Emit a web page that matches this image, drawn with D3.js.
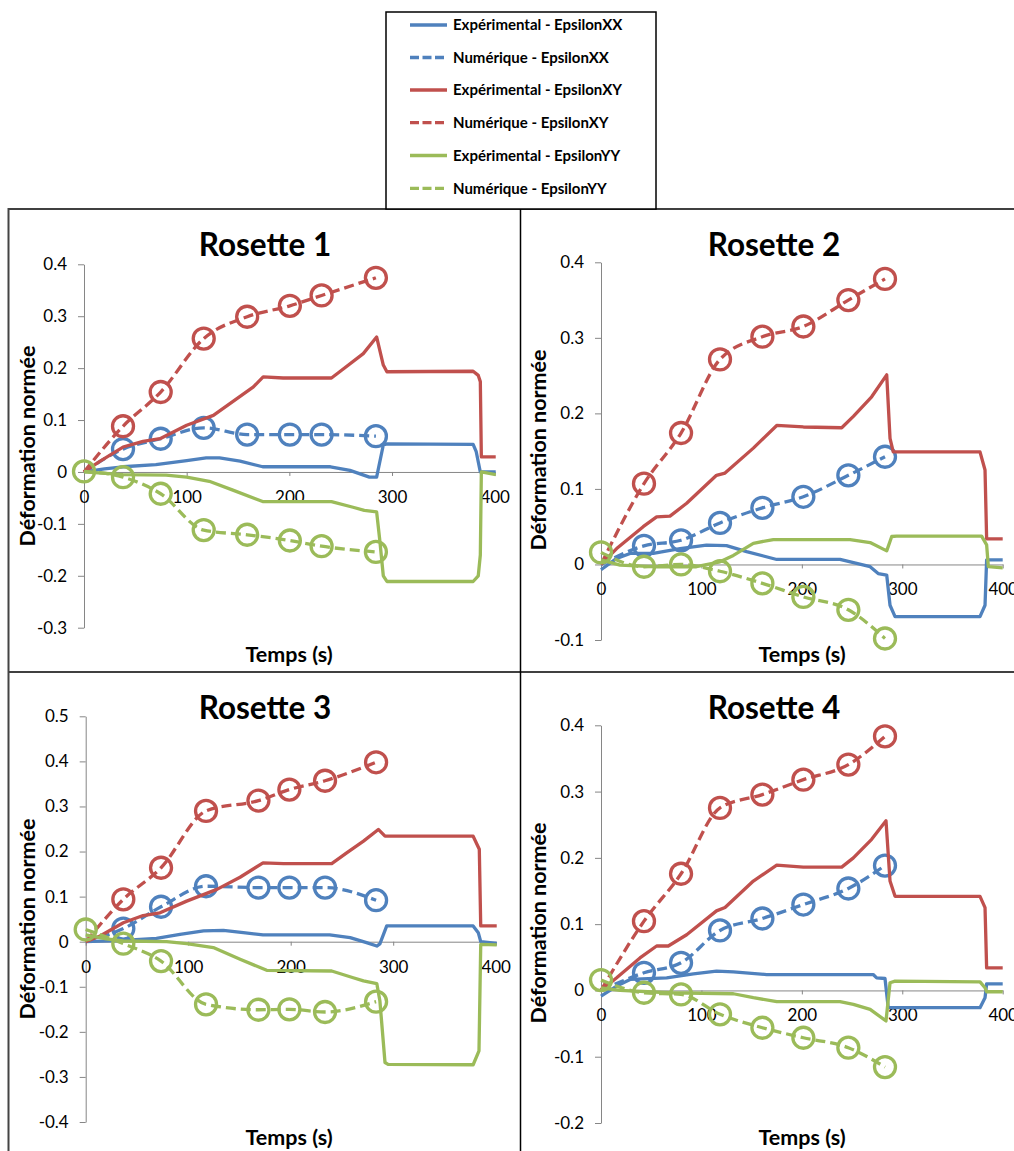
<!DOCTYPE html>
<html>
<head>
<meta charset="utf-8">
<script src="https://cdn.jsdelivr.net/npm/d3@7"></script>
<style>
  html, body { margin: 0; padding: 0; background: #fff; }
  svg { display: block; }
  text { font-family: Lato, "Open Sans", sans-serif; fill: #000; }
</style>
</head>
<body>
<svg id="chart" width="1014" height="1151"></svg>
<script>
// ---------------- DATA ----------------
const seriesNames = ["Expérimental - EpsilonXX", "Numérique - EpsilonXX",
                     "Expérimental - EpsilonXY", "Numérique - EpsilonXY",
                     "Expérimental - EpsilonYY", "Numérique - EpsilonYY"];
const panelTitles = ["Rosette 1", "Rosette 2", "Rosette 3", "Rosette 4"];
const xTicks = [0, 100, 200, 300, 400];
const yTicks1 = [-0.3, -0.2, -0.1, 0, 0.1, 0.2, 0.3, 0.4];
const yTicks2 = [-0.1, 0, 0.1, 0.2, 0.3, 0.4];
const yTicks3 = [-0.4, -0.3, -0.2, -0.1, 0, 0.1, 0.2, 0.3, 0.4, 0.5];
const yTicks4 = [-0.2, -0.1, 0, 0.1, 0.2, 0.3, 0.4];

// Rosette 1 — experimental [time, value]
const expXX1 = [[0,0],[20,0.006],[38,0.01],[70,0.014],[100,0.022],[119,0.027],[132,0.027],[152,0.021],[174,0.01],[240,0.01],[259,0.003],[278,-0.01],[285,-0.01],[291.5,0.052],[295,0.054],[379,0.053],[382,0.039],[386,0],[401,0]];
const expXY1 = [[0,0],[15,0.02],[38,0.048],[57.5,0.059],[74,0.064],[100,0.09],[126,0.109],[165,0.164],[174.5,0.183],[194,0.181],[241,0.181],[249,0.193],[272,0.228],[285,0.26],[291.5,0.206],[295,0.193],[379,0.194],[384,0.186],[386,0.174],[387,0.029],[401,0.029]];
const expYY1 = [[0,0],[38,-0.005],[80,-0.006],[100,-0.01],[122,-0.018],[145,-0.035],[174,-0.057],[241,-0.057],[262,-0.068],[273,-0.074],[285,-0.077],[288,-0.13],[291.5,-0.2],[295,-0.211],[379,-0.211],[384,-0.2],[386,-0.16],[387,0],[401,-0.005]];
// Rosette 1 — numerical
const numT1  = [0, 38, 74.7, 116.6, 158.9, 200.5, 231.4, 284.3];
const numXX1 = [0, 0.044, 0.064, 0.085, 0.072, 0.072, 0.072, 0.069];
const numXY1 = [0, 0.088, 0.154, 0.257, 0.299, 0.32, 0.34, 0.374];
const numYY1 = [0.001, -0.01, -0.042, -0.112, -0.121, -0.132, -0.143, -0.154];

// Rosette 2
const expXX2 = [[0,-0.007],[15.6,0.008],[29,0.0146],[52,0.0146],[78.7,0.021],[105,0.0256],[125,0.025],[145,0.017],[175,0.0066],[238,0.0066],[268,-0.003],[276,-0.012],[284.5,-0.014],[287.8,-0.054],[292.8,-0.069],[377.4,-0.069],[382.4,-0.054],[384,0.006],[400,0.006]];
const expXY2 = [[0,0],[15.6,0.021],[42,0.05],[55.4,0.063],[68.7,0.064],[85.3,0.081],[115,0.118],[123.5,0.121],[151.7,0.154],[175,0.184],[201.5,0.182],[239.7,0.181],[251.3,0.196],[269.5,0.222],[284.5,0.251],[287.8,0.167],[291,0.149],[377.4,0.149],[382.4,0.125],[384,0.034],[400,0.034]];
const expYY2 = [[0,0.006],[19,-0.001],[52,-0.003],[95,-0.003],[118.5,0.0035],[131.8,0.012],[151.7,0.028],[171.6,0.033],[248,0.033],[268,0.029],[284.5,0.018],[289.5,0.037],[294.4,0.0375],[379,0.0375],[384,0.026],[385.7,-0.003],[400,-0.0044]];
const numT2  = [0, 42.8, 79.7, 118.5, 160.7, 201.5, 246.3, 282.8];
const numXX2 = [0, 0.0247, 0.032, 0.055, 0.075, 0.0896, 0.118, 0.1426];
const numXY2 = [0, 0.107, 0.174, 0.2715, 0.3015, 0.315, 0.35, 0.378];
const numYY2 = [0.016, -0.003, 0, -0.009, -0.025, -0.043, -0.06, -0.098];

// Rosette 3
const expXX3 = [[0,0],[36.7,0.003],[69,0.0074],[92,0.016],[115,0.024],[134.3,0.025],[153.8,0.02],[173,0.015],[238,0.015],[258,0.009],[274,-0.002],[284,-0.0096],[287,-0.005],[293.7,0.035],[378,0.035],[383,0.02],[385.4,0],[401,-0.004]];
const expXY3 = [[0,0],[14,0.0125],[36.7,0.042],[56,0.058],[72.5,0.064],[98.5,0.09],[128,0.116],[150.6,0.143],[173,0.175],[193,0.173],[240,0.173],[254.6,0.197],[271,0.223],[285.5,0.249],[292,0.234],[378,0.234],[384,0.205],[385.4,0.035],[401,0.035]];
const expYY3 = [[0,0.015],[20,0.006],[36.7,0.0015],[79,0],[98.5,-0.0044],[124.5,-0.013],[150.6,-0.039],[176.6,-0.0635],[240,-0.065],[261,-0.08],[271,-0.087],[284,-0.093],[287,-0.131],[292,-0.268],[295,-0.272],[378,-0.273],[383.7,-0.242],[385.4,-0.006],[401,-0.007]];
const numT3  = [0, 36.7, 73.5, 117.4, 168.5, 198.7, 233.5, 283.3];
const numXX3 = [0, 0.029, 0.0775, 0.123, 0.12, 0.12, 0.12, 0.092];
const numXY3 = [0, 0.094, 0.164, 0.29, 0.313, 0.3375, 0.357, 0.398];
const numYY3 = [0.027, -0.0044, -0.043, -0.139, -0.151, -0.15, -0.156, -0.133];

// Rosette 4
const expXX4 = [[0,-0.0085],[15.6,0.0065],[29,0.0166],[65.4,0.019],[92,0.025],[115,0.029],[131.8,0.028],[165,0.024],[271,0.024],[274.5,0.019],[282.8,0.018],[286,-0.026],[291,-0.026],[377.4,-0.026],[382.4,-0.011],[384,0.01],[400,0.01]];
const expXY4 = [[0,0],[15.6,0.019],[38.8,0.049],[55.4,0.067],[67,0.067],[85.3,0.084],[115,0.12],[123.5,0.125],[151.7,0.165],[175,0.189],[201.5,0.186],[239.7,0.186],[251.3,0.2],[269.5,0.228],[283.8,0.256],[287.8,0.165],[292.8,0.142],[377.4,0.142],[382.4,0.125],[384,0.034],[400,0.034]];
const expYY4 = [[0,0.004],[19,0],[68.7,-0.0035],[131.8,-0.005],[151.7,-0.011],[175,-0.017],[238,-0.017],[251.3,-0.021],[268,-0.0286],[283.8,-0.046],[287.8,0.0116],[292.8,0.014],[377.4,0.013],[382.4,0.004],[384,-0.002],[400,-0.002]];
const numT4  = [0, 42.8, 79.7, 118.5, 160.7, 201.5, 246.3, 282.8];
const numXX4 = [0, 0.0266, 0.0417, 0.0905, 0.1085, 0.1296, 0.1538, 0.1884];
const numXY4 = [0, 0.1045, 0.176, 0.2754, 0.2955, 0.318, 0.3407, 0.3834];
const numYY4 = [0.0156, -0.0035, -0.006, -0.036, -0.0563, -0.0714, -0.0864, -0.1156];

// ---------------- STYLE / LAYOUT ----------------
const COLORS = { XX: "#4F81BD", XY: "#C0504D", YY: "#9BBB59" };
const AXIS = "#868686";
const LW = 3.3;
const DASH = "10,5";

const panels = [
  { title: panelTitles[0], yTicks: yTicks1, exp: [expXX1, expXY1, expYY1], numT: numT1, num: [numXX1, numXY1, numYY1],
    xr: [84, 494.7], yr: [627.7, 264.3], titleX: 265, titleY: 256, ylab: [27, 446], xlab: [289, 662] },
  { title: panelTitles[1], yTicks: yTicks2, exp: [expXX2, expXY2, expYY2], numT: numT2, num: [numXX2, numXY2, numYY2],
    xr: [601, 1002.7], yr: [640, 262.3], titleX: 774, titleY: 256, ylab: [538, 450], xlab: [802, 662] },
  { title: panelTitles[2], yTicks: yTicks3, exp: [expXX3, expXY3, expYY3], numT: numT3, num: [numXX3, numXY3, numYY3],
    xr: [85.7, 495.7], yr: [1122, 716.3], titleX: 265, titleY: 719, ylab: [27, 919], xlab: [289, 1145] },
  { title: panelTitles[3], yTicks: yTicks4, exp: [expXX4, expXY4, expYY4], numT: numT4, num: [numXX4, numXY4, numYY4],
    xr: [601, 1002.7], yr: [1123, 725.3], titleX: 774, titleY: 719, ylab: [538, 923], xlab: [802, 1145] }
];

const svg = d3.select("#chart");

// frames
const frame = svg.append("g").attr("stroke", "#000").attr("stroke-width", 1.5).attr("fill", "none");
frame.append("line").attr("x1", 8).attr("x2", 1014).attr("y1", 209).attr("y2", 209);
frame.append("line").attr("x1", 8).attr("x2", 1014).attr("y1", 672).attr("y2", 672);
frame.append("line").attr("x1", 520.5).attr("x2", 520.5).attr("y1", 209).attr("y2", 1151);
frame.append("line").attr("x1", 8.5).attr("x2", 8.5).attr("y1", 208).attr("y2", 1151).attr("stroke", "#444").attr("stroke-width", 2);

const fmt = v => (Math.abs(v) < 1e-9 ? "0" : v.toFixed(1));
const keys = ["XX", "XY", "YY"];

panels.forEach(p => {
  const yd = d3.extent(p.yTicks);
  const x = d3.scaleLinear().domain([0, 400]).range(p.xr);
  const y = d3.scaleLinear().domain(yd).range(p.yr);
  const g = svg.append("g");

  // y axis
  const yAxis = d3.axisLeft(y).tickValues(p.yTicks).tickSize(6).tickSizeOuter(0).tickFormat(fmt).tickPadding(11);
  const ya = g.append("g").attr("transform", `translate(${p.xr[0]},0)`).call(yAxis);
  ya.select(".domain").attr("stroke", AXIS);
  ya.selectAll(".tick line").attr("stroke", AXIS);
  ya.selectAll(".tick text").attr("font-size", 17).attr("font-family", "Lato, sans-serif").attr("fill", "#000");

  // x axis at y = 0
  const xAxis = d3.axisBottom(x).tickValues(xTicks).tickSize(4).tickSizeOuter(0).tickFormat(d3.format("d")).tickPadding(0);
  const xa = g.append("g").attr("transform", `translate(0,${y(0)})`).call(xAxis);
  xa.select(".domain").attr("stroke", AXIS);
  xa.selectAll(".tick line").attr("stroke", AXIS);
  xa.selectAll(".tick text").attr("font-size", 17).attr("font-family", "Lato, sans-serif").attr("fill", "#000")
    .attr("dy", null).attr("y", 31).attr("dominant-baseline", "alphabetic");

  // series
  const lineExp = d3.line().x(d => x(d[0])).y(d => y(d[1]));
  const lineNum = d3.line().x(d => x(d[0])).y(d => y(d[1])).curve(d3.curveMonotoneX);
  keys.forEach((k, i) => {
    const c = COLORS[k];
    g.append("path").datum(p.exp[i]).attr("d", lineExp)
      .attr("fill", "none").attr("stroke", c).attr("stroke-width", LW).attr("stroke-linejoin", "round");
    const pts = p.numT.map((t, j) => [t, p.num[i][j]]);
    g.append("path").datum(pts).attr("d", lineNum)
      .attr("fill", "none").attr("stroke", c).attr("stroke-width", LW).attr("stroke-dasharray", DASH);
    const mk = k === "YY" ? pts : pts.slice(1);
    g.selectAll(null).data(mk).enter().append("circle")
      .attr("cx", d => x(d[0])).attr("cy", d => y(d[1])).attr("r", 10.5)
      .attr("fill", "none").attr("stroke", c).attr("stroke-width", LW);
  });

  // titles and labels
  g.append("text").attr("x", p.titleX).attr("y", p.titleY).attr("text-anchor", "middle")
    .attr("font-size", 31.5).attr("font-weight", "bold").text(p.title);
  g.append("text").attr("transform", `translate(${p.ylab[0]},${p.ylab[1]}) rotate(-90)`)
    .attr("text-anchor", "middle").attr("dy", "0.35em")
    .attr("font-size", 21.5).attr("font-weight", "bold").text("Déformation normée");
  g.append("text").attr("x", p.xlab[0]).attr("y", p.xlab[1]).attr("text-anchor", "middle")
    .attr("font-size", 21.5).attr("font-weight", "bold").text("Temps (s)");
});

// legend
const lg = svg.append("g");
lg.append("rect").attr("x", 386).attr("y", 12).attr("width", 270).attr("height", 197)
  .attr("fill", "#fff").attr("stroke", "#000").attr("stroke-width", 1.5);
const legendY = [25, 57.5, 90, 122.7, 155.5, 188.3];
seriesNames.forEach((name, i) => {
  const c = COLORS[keys[Math.floor(i / 2)]];
  const dashed = i % 2 === 1;
  lg.append("line").attr("x1", 410).attr("x2", 447).attr("y1", legendY[i]).attr("y2", legendY[i])
    .attr("stroke", c).attr("stroke-width", LW).attr("stroke-dasharray", dashed ? "9,3.5" : null);
  lg.append("text").attr("x", 453).attr("y", legendY[i]).attr("dy", "0.35em")
    .attr("font-size", 15).attr("font-weight", "bold").attr("fill", "#222").text(name);
});
</script>
</body>
</html>
